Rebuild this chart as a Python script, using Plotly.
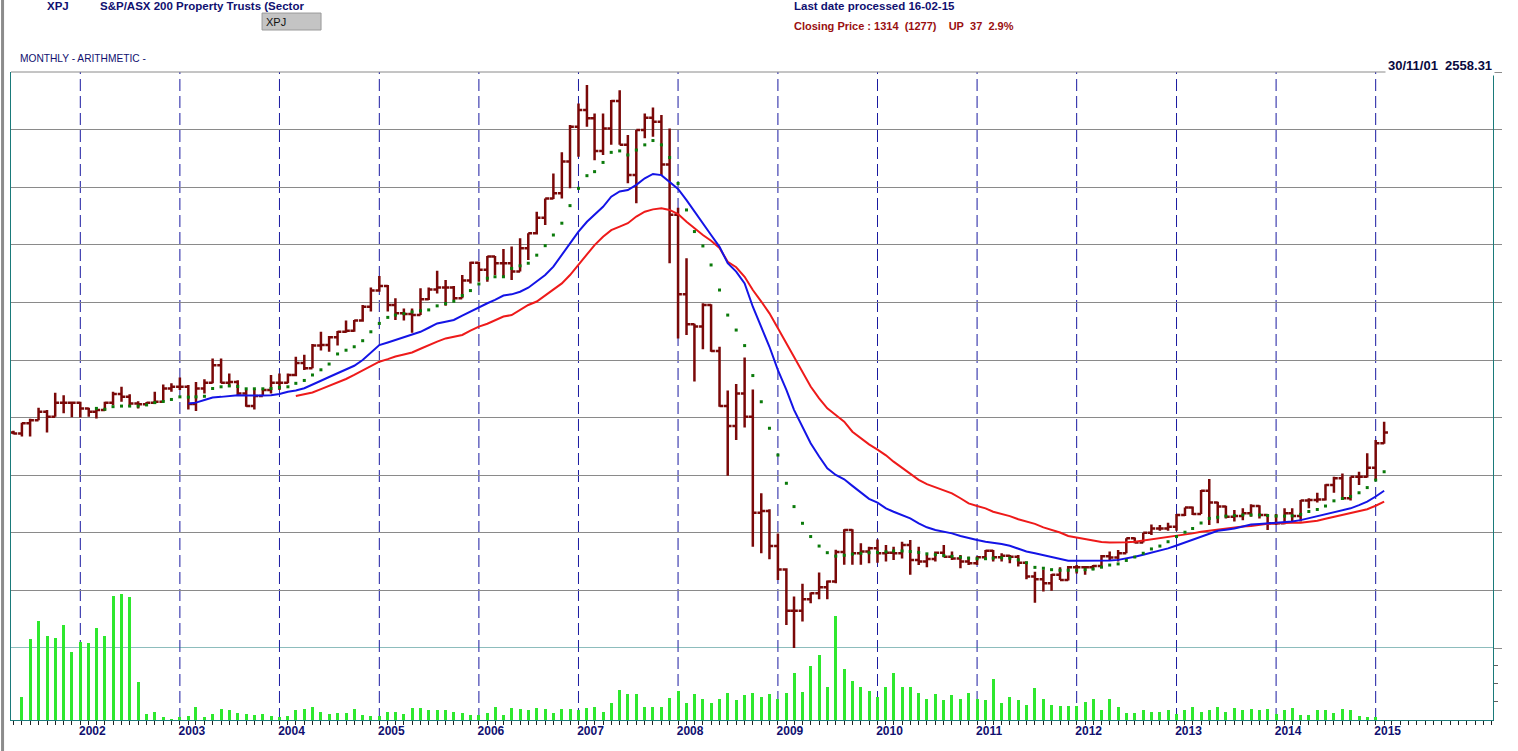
import pandas as pd
import plotly.graph_objects as go

# monthly bars, May 2001 .. Feb 2015 (index level)
months = pd.date_range("2001-05-01", "2015-02-01", freq="MS")
years = list(range(2002, 2016))

opens = [
    1314, 1311, 1346, 1357, 1386, 1369, 1418, 1418,
    1418, 1398, 1386, 1392, 1418, 1448, 1438, 1415, 1412, 1418, 1421, 1467,
    1473, 1473, 1413, 1467, 1487, 1548, 1487, 1490, 1450, 1406, 1441, 1462,
    1487, 1487, 1514, 1556, 1537, 1616, 1618, 1645, 1664, 1668, 1703, 1751,
    1807, 1823, 1757, 1728, 1726, 1722, 1777, 1811, 1818, 1818, 1780, 1842,
    1904, 1879, 1925, 1902, 1902, 1873, 1954, 2006, 2060, 2127, 2145, 2255,
    2376, 2434, 2405, 2292, 2370, 2465, 2313, 2208, 2365, 2407, 2393, 2245,
    2070, 1794, 1690, 1682, 1757, 1597, 1406, 1337, 1450, 1369, 1036, 1042,
    920, 839, 695, 695, 735, 756, 777, 797, 899, 976, 895, 901,
    912, 895, 897, 895, 924, 872, 866, 875, 897, 883, 877, 866,
    860, 881, 904, 881, 886, 883, 862, 814, 805, 791, 820, 802,
    846, 846, 846, 851, 885, 880, 895, 947, 932, 966, 981, 981,
    987, 1028, 1054, 1031, 1112, 1071, 1057, 1022, 1024, 1034, 1059, 1028,
    999, 999, 1034, 1024, 1078, 1080, 1082, 1132, 1155, 1086, 1161, 1161,
    1192, 1277,
]
highs = [
    1320, 1348, 1362, 1400, 1392, 1452, 1444, 1421,
    1421, 1400, 1398, 1421, 1456, 1473, 1447, 1423, 1420, 1456, 1481, 1485,
    1505, 1479, 1490, 1499, 1571, 1571, 1519, 1496, 1462, 1465, 1464, 1514,
    1519, 1519, 1577, 1584, 1622, 1664, 1649, 1667, 1703, 1705, 1757, 1818,
    1858, 1826, 1780, 1745, 1745, 1815, 1818, 1876, 1844, 1823, 1861, 1907,
    1907, 1927, 1927, 1951, 1960, 1989, 2006, 2081, 2127, 2214, 2287, 2382,
    2457, 2521, 2422, 2422, 2469, 2503, 2347, 2365, 2422, 2443, 2417, 2370,
    2095, 1919, 1692, 1763, 1760, 1612, 1460, 1483, 1575, 1464, 1103, 1048,
    964, 843, 745, 789, 759, 828, 800, 907, 978, 978, 930, 918,
    943, 924, 918, 935, 941, 918, 889, 901, 924, 901, 889, 883,
    885, 906, 906, 895, 889, 889, 866, 831, 839, 823, 846, 851,
    854, 851, 854, 889, 901, 906, 947, 950, 966, 995, 993, 1001,
    1031, 1054, 1057, 1115, 1153, 1074, 1060, 1045, 1051, 1065, 1062, 1030,
    1031, 1051, 1051, 1080, 1086, 1105, 1135, 1161, 1172, 1161, 1178, 1242,
    1288, 1352,
]
lows = [
    1308, 1300, 1300, 1357, 1314, 1369, 1381, 1367,
    1366, 1369, 1363, 1390, 1410, 1421, 1404, 1398, 1406, 1413, 1421, 1456,
    1462, 1394, 1389, 1450, 1485, 1485, 1473, 1441, 1404, 1394, 1441, 1450,
    1462, 1485, 1510, 1531, 1537, 1599, 1595, 1616, 1661, 1664, 1699, 1734,
    1803, 1734, 1705, 1703, 1661, 1722, 1774, 1797, 1754, 1774, 1780, 1832,
    1838, 1838, 1861, 1856, 1844, 1873, 1913, 2002, 2035, 2125, 2127, 2162,
    2272, 2376, 2260, 2278, 2313, 2313, 2180, 2110, 2336, 2341, 2208, 1902,
    1641, 1653, 1491, 1603, 1595, 1404, 1164, 1288, 1332, 918, 895, 874,
    802, 646, 565, 658, 721, 735, 735, 791, 855, 855, 855, 860,
    862, 866, 872, 877, 820, 854, 846, 866, 881, 872, 843, 854,
    854, 872, 866, 866, 860, 849, 805, 723, 762, 765, 802, 800,
    825, 820, 837, 843, 872, 866, 895, 930, 932, 958, 973, 973,
    973, 1024, 1028, 1031, 993, 999, 1016, 1005, 1010, 1022, 1016, 976,
    993, 996, 1007, 1005, 1051, 1071, 1078, 1105, 1080, 1078, 1132, 1158,
    1149, 1275,
]
closes = [
    1311, 1346, 1357, 1386, 1369, 1418, 1418, 1418,
    1398, 1386, 1392, 1418, 1448, 1438, 1415, 1412, 1418, 1421, 1467, 1473,
    1473, 1413, 1467, 1487, 1548, 1487, 1490, 1450, 1406, 1441, 1462, 1487,
    1487, 1514, 1556, 1537, 1616, 1618, 1645, 1664, 1668, 1703, 1751, 1807,
    1823, 1757, 1728, 1726, 1722, 1777, 1811, 1818, 1818, 1780, 1842, 1904,
    1879, 1925, 1902, 1902, 1873, 1954, 2006, 2060, 2127, 2145, 2255, 2376,
    2434, 2405, 2292, 2370, 2465, 2313, 2208, 2365, 2407, 2393, 2245, 2070,
    1794, 1690, 1682, 1757, 1597, 1406, 1337, 1450, 1369, 1036, 1042, 920,
    839, 695, 695, 735, 756, 777, 797, 899, 976, 895, 901, 912,
    895, 897, 895, 924, 872, 866, 875, 897, 883, 877, 866, 860,
    881, 904, 881, 886, 883, 862, 814, 805, 791, 820, 802, 846,
    846, 846, 851, 885, 880, 895, 947, 932, 966, 981, 981, 987,
    1028, 1054, 1031, 1112, 1071, 1057, 1022, 1024, 1034, 1059, 1028, 999,
    999, 1034, 1024, 1078, 1080, 1082, 1132, 1155, 1086, 1161, 1161, 1192,
    1277, 1314,
]

# averages as drawn (blue from Feb 2003, red from Mar 2004, dots from Mar 2002)
avg_blue = [None] * 21 + [
    1415, 1418, 1427, 1436, 1438, 1441, 1444, 1443, 1442, 1443, 1444,
    1448, 1456, 1460, 1468, 1482, 1494, 1507, 1520, 1533, 1546, 1566, 1592,
    1618, 1627, 1636, 1645, 1653, 1664, 1678, 1693, 1699, 1705, 1720, 1734,
    1751, 1763, 1775, 1790, 1794, 1803, 1817, 1838, 1861, 1890, 1931, 1971,
    2012, 2046, 2070, 2098, 2133, 2151, 2156, 2174, 2197, 2212, 2208, 2185,
    2160, 2121, 2081, 2040, 2000, 1959, 1902, 1873, 1832, 1751, 1682, 1612,
    1531, 1462, 1393, 1335, 1277, 1231, 1190, 1167, 1152, 1129, 1106, 1084,
    1071, 1051, 1039, 1028, 1016, 999, 985, 976, 970, 964, 955, 947,
    941, 935, 932, 927, 921, 912, 901, 895, 889, 883, 875, 869,
    869, 869, 868, 869, 870, 872, 877, 883, 890, 897, 905, 912,
    922, 932, 942, 953, 963, 973, 977, 981, 988, 995, 997, 999,
    1000, 1001, 1005, 1010, 1017, 1024, 1031, 1039, 1045, 1051, 1062, 1074,
    1092, 1112,
]
avg_red = [None] * 34 + [
    1441, 1447, 1453, 1465, 1476, 1487, 1500, 1514, 1530, 1546,
    1560, 1569, 1578, 1585, 1592, 1605, 1618, 1630, 1641, 1647, 1653, 1668,
    1682, 1692, 1703, 1717, 1722, 1740, 1757, 1769, 1790, 1809, 1832, 1861,
    1896, 1931, 1965, 1994, 2017, 2029, 2041, 2064, 2081, 2089, 2093, 2087,
    2073, 2046, 2023, 2000, 1980, 1955, 1907, 1888, 1855, 1809, 1769, 1728,
    1676, 1624, 1572, 1520, 1474, 1433, 1398, 1375, 1352, 1317, 1294, 1273,
    1255, 1235, 1213, 1192, 1170, 1150, 1135, 1125, 1114, 1103, 1086, 1068,
    1059, 1051, 1039, 1031, 1024, 1013, 1005, 997, 985, 976, 967, 955,
    950, 943, 939, 934, 932, 932, 933, 935, 939, 943, 947, 950,
    954, 958, 964, 970, 974, 978, 982, 985, 988, 990, 994, 997,
    999, 1001, 1001, 1001, 1005, 1008, 1015, 1022, 1028, 1034, 1041, 1048,
    1060, 1074,
]
avg_dots = [None] * 10 + [
    1398, 1395, 1404, 1406, 1406, 1406, 1410, 1418, 1422, 1429,
    1438, 1437, 1438, 1440, 1467, 1473, 1476, 1474, 1466, 1466, 1466, 1467,
    1471, 1473, 1485, 1495, 1514, 1532, 1552, 1587, 1600, 1612, 1633, 1664,
    1693, 1714, 1722, 1727, 1733, 1737, 1740, 1754, 1762, 1770, 1790, 1807,
    1830, 1850, 1855, 1855, 1884, 1893, 1902, 1930, 1963, 2000, 2041, 2102,
    2162, 2206, 2220, 2252, 2287, 2292, 2278, 2295, 2313, 2328, 2313, 2269,
    2179, 2087, 2012, 1962, 1896, 1809, 1722, 1670, 1616, 1512, 1421, 1329,
    1236, 1138, 1057, 999, 953, 920, 897, 885, 888, 892, 895, 897,
    898, 900, 903, 903, 901, 898, 893, 890, 887, 884, 881, 878,
    876, 876, 878, 879, 878, 872, 862, 846, 843, 838, 836, 836,
    836, 838, 840, 847, 854, 858, 870, 882, 895, 910, 920, 935,
    953, 968, 981, 1000, 1016, 1020, 1024, 1026, 1028, 1028, 1028, 1026,
    1024, 1024, 1025, 1030, 1040, 1047, 1059, 1077, 1085, 1092, 1105, 1123,
    1149, 1178,
]

volume = [None] + [
    25, 88, 108, 92, 89, 104, 74,
    85, 84, 100, 92, 135, 137, 134, 41, 7, 9, 3, 1,
    3, 4, 14, 3, 7, 12, 11, 8, 7, 5, 7, 4,
    3, 4, 11, 12, 14, 9, 7, 8, 8, 12, 5, 4,
    4, 9, 9, 7, 13, 13, 11, 11, 11, 9, 8, 5,
    5, 8, 14, 6, 13, 12, 11, 13, 12, 8, 12, 12,
    11, 13, 14, 9, 19, 33, 28, 28, 14, 14, 14, 24,
    32, 19, 28, 23, 19, 23, 29, 22, 27, 29, 25, 28,
    23, 29, 51, 31, 59, 71, 36, 113, 56, 43, 36, 32,
    25, 36, 51, 36, 36, 29, 23, 28, 22, 27, 23, 29,
    23, 22, 45, 19, 25, 22, 16, 35, 23, 16, 15, 15,
    15, 20, 23, 11, 23, 14, 8, 8, 11, 9, 9, 11,
    7, 11, 14, 9, 11, 14, 9, 13, 11, 12, 11, 12,
    7, 11, 13, 5, 6, 11, 11, 8, 12, 11, 4, 3,
    3, 0,
]

NAVY = "#101070"
TEAL = "#1a7a7a"
GRID = "#8a8a8a"
FONT = "Liberation Sans Narrow, Arial Narrow, Liberation Sans, Arial, sans-serif"

fig = go.Figure()

fig.add_trace(go.Bar(
    x=months, y=volume, yaxis="y2", width=11 * 86400000,
    marker=dict(color="#2ee82e", line_width=0), showlegend=False, hoverinfo="skip",
))
fig.add_trace(go.Scatter(
    x=months, y=avg_red, mode="lines", line=dict(color="#ee1a1a", width=2),
    showlegend=False, hoverinfo="skip",
))
fig.add_trace(go.Scatter(
    x=months, y=avg_blue, mode="lines", line=dict(color="#1414e6", width=2),
    showlegend=False, hoverinfo="skip",
))
fig.add_trace(go.Scatter(
    x=months, y=avg_dots, mode="markers",
    marker=dict(color="#0a7a0a", size=3, symbol="square", line_width=0),
    showlegend=False, hoverinfo="skip",
))
fig.add_trace(go.Ohlc(
    x=months, open=opens, high=highs, low=lows, close=closes,
    increasing_line_color="#7a0808", decreasing_line_color="#7a0808",
    line_width=2.5, tickwidth=0.5, showlegend=False,
))

# year separators
shapes = []
for y in years:
    shapes.append(dict(
        type="line", xref="x", yref="paper", x0=f"{y}-01-01", x1=f"{y}-01-01", y0=0, y1=1,
        line=dict(color="#1a1aa0", width=1, dash="12px,5px"), layer="below",
    ))
# top frame line, price/volume separator, window edge
shapes.append(dict(type="line", xref="paper", yref="paper", x0=0, x1=1, y0=1, y1=1,
                   line=dict(color=GRID, width=1)))
shapes.append(dict(type="line", xref="paper", yref="y", x0=0, x1=1, y0=566, y1=566,
                   line=dict(color=TEAL, width=1), layer="below"))
shapes.append(dict(type="line", xref="paper", yref="paper", x0=-0.0057, x1=-0.0057,
                   y0=-0.05, y1=1.12, line=dict(color="#8c8c8c", width=3)))
# code box
shapes.append(dict(type="rect", xref="paper", yref="paper", x0=0.1694, x1=0.2092,
                   y0=1.0648, y1=1.0910, fillcolor="#c4c4c4",
                   line=dict(color="#9a9a9a", width=1)))

annotations = [
    dict(text="<b>XPJ</b>", x=0.0229, y=1.1019, font=dict(size=11.5, color=NAVY)),
    dict(text="<b>S&P/ASX 200 Property Trusts (Sector</b>", x=0.0587, y=1.1019,
         font=dict(size=11.5, color=NAVY)),
    dict(text="XPJ", x=0.1710, y=1.0779, font=dict(size=11, color="#111111")),
    dict(text="MONTHLY - ARITHMETIC -", x=0.0047, y=1.0216, font=dict(size=10.2, color=NAVY)),
    dict(text="<b>Last date processed 16-02-15</b>", x=0.5270, y=1.1019,
         font=dict(size=11.5, color=NAVY)),
    dict(text="<b>Closing Price : 1314\u00a0\u00a0(1277)\u00a0\u00a0\u00a0\u00a0UP\u00a0\u00a037\u00a0\u00a02.9%</b>",
         x=0.5270, y=1.0710, font=dict(size=11, color="#9a1010")),
]
for a in annotations:
    a.update(xref="paper", yref="paper", xanchor="left", yanchor="middle", showarrow=False)
    a["font"]["family"] = FONT
annotations.append(dict(
    text="<b>30/11/01\u00a0\u00a02558.31</b>", xref="paper", yref="paper", x=1.0013, y=1.0108,
    xanchor="right", yanchor="middle", showarrow=False, bgcolor="white", borderpad=2,
    font=dict(family=FONT, size=13, color="#0a0a40"),
))

fig.update_layout(
    width=1518, height=751,
    margin=dict(l=11, r=25, t=72, b=31),
    paper_bgcolor="white", plot_bgcolor="rgba(0,0,0,0)",
    showlegend=False, bargap=0,
    shapes=shapes, annotations=annotations,
    xaxis=dict(
        type="date", range=["2001-04-22", "2016-03-06"], anchor="y2",
        rangeslider=dict(visible=False), showgrid=False, zeroline=False,
        tickmode="array", tickvals=[f"{y}-02-14" for y in years], ticktext=[str(y) for y in years],
        ticks="", tickfont=dict(family=FONT, size=12, color=NAVY, weight="bold"),
        showline=True, linecolor=TEAL, linewidth=1,
        minor=dict(ticks="outside", dtick="M1", tick0="2001-01-01", ticklen=4,
                   tickcolor="#222222", tickwidth=1, showgrid=False),
    ),
    yaxis=dict(
        domain=[0.1111, 1], range=[566, 2566], anchor="x", side="right",
        tick0=566, dtick=200, showgrid=True, gridcolor=GRID, gridwidth=1,
        zeroline=False, showticklabels=False, ticks="outside", ticklen=8,
        tickcolor=GRID, showline=False,
    ),
    yaxis2=dict(
        domain=[0, 1], range=[0, 707], anchor="x", side="right",
        tickmode="array", tickvals=[20, 40, 60], ticks="outside", ticklen=4,
        tickcolor="#606060", showticklabels=False, showgrid=False, zeroline=False,
        showline=True, linecolor=TEAL, linewidth=1, mirror=True,
    ),
)

fig.write_html(
    "out.html",
    config={"displayModeBar": False},
    post_script="document.body.style.margin='0';document.body.style.overflow='hidden';",
)
